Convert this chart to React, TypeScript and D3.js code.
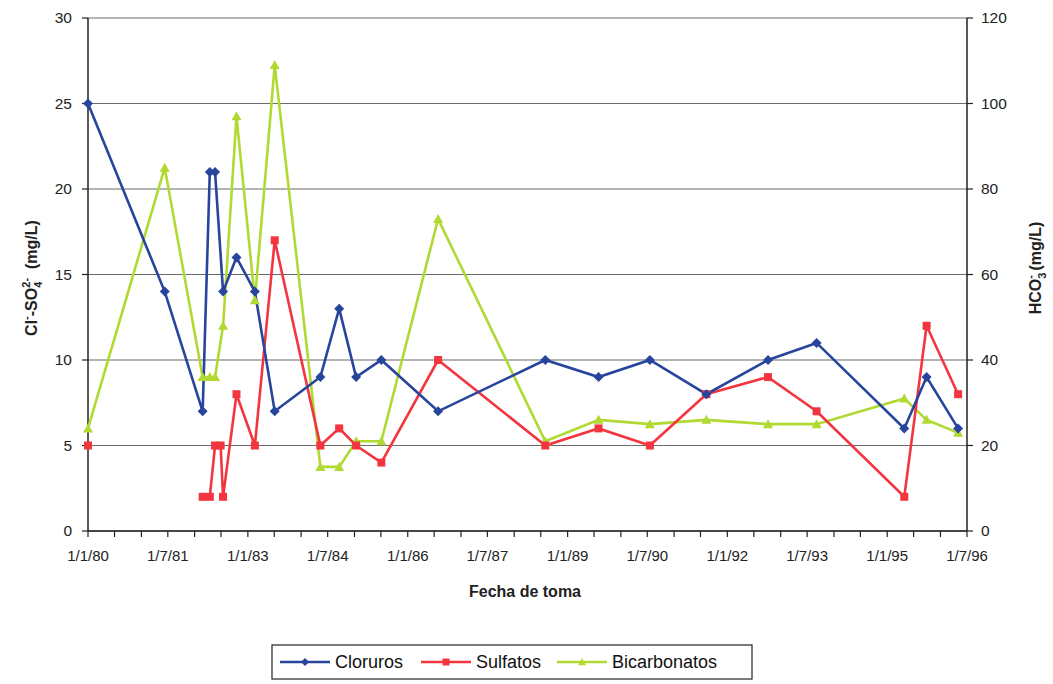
import React from 'react';
import * as d3 from 'd3';

// x axis labels (d/m/yy), one every 18 months
const xTickLabels = ['1/1/80', '1/7/81', '1/1/83', '1/7/84', '1/1/86', '1/7/87', '1/1/89', '1/7/90', '1/1/92', '1/7/93', '1/1/95', '1/7/96'];
const leftTicks = [0, 5, 10, 15, 20, 25, 30];
const rightTicks = [0, 20, 40, 60, 80, 100, 120];

// sampling dates
const cloDates = ['1980-01-01', '1981-06-10', '1982-02-25', '1982-04-15', '1982-05-21', '1982-07-15', '1982-10-15', '1983-02-18', '1983-07-04', '1984-05-12', '1984-09-18', '1985-01-12', '1985-07-04', '1986-07-28', '1988-08-01', '1989-08-01', '1990-07-19', '1991-08-10', '1992-10-06', '1993-09-04', '1995-04-28', '1995-09-28', '1996-05-01'];
const cloruros = [25, 14, 7, 21, 21, 14, 16, 14, 7, 9, 13, 9, 10, 7, 10, 9, 10, 8, 10, 11, 6, 9, 6];

// sulfatos: no value on 1981-06-10, so the first point stands alone
const sulDates = ['1980-01-01', '1981-06-10', '1982-02-25', '1982-04-15', '1982-05-21', '1982-06-28', '1982-07-15', '1982-10-15', '1983-02-18', '1983-07-04', '1984-05-12', '1984-09-18', '1985-01-12', '1985-07-04', '1986-07-28', '1988-08-01', '1989-08-01', '1990-07-19', '1991-08-10', '1992-10-06', '1993-09-04', '1995-04-28', '1995-09-28', '1996-05-01'];
const sulfatos: (number | null)[] = [5, null, 2, 2, 5, 5, 2, 8, 5, 17, 5, 6, 5, 4, 10, 5, 6, 5, 8, 9, 7, 2, 12, 8];

const bicDates = cloDates;
const bicarbonatos = [24, 85, 36, 36, 36, 48, 97, 54, 109, 15, 15, 21, 21, 73, 21, 26, 25, 26, 25, 25, 31, 26, 23];

const BLUE = '#27459c';
const RED = '#f2353f';
const GREEN = '#b0d932';
const FONT = '"Liberation Sans", Arial, sans-serif';

const parseISO = d3.timeParse('%Y-%m-%d');
const parseLabel = d3.timeParse('%d/%m/%y');

const W = 1053;
const H = 684;
const left = 88;
const right = 967;
const top = 18;
const bottom = 531;

type Pt = { d: Date; v: number | null };

export default function App() {
  const x = d3
    .scaleTime()
    .domain([parseLabel(xTickLabels[0]) as Date, parseLabel(xTickLabels[xTickLabels.length - 1]) as Date])
    .range([left, right]);
  const yL = d3.scaleLinear().domain([0, 30]).range([bottom, top]);
  const yR = d3.scaleLinear().domain([0, 120]).range([bottom, top]);

  const minorTicks = d3.timeMonth.every(6)!.range(x.domain()[0], d3.timeDay.offset(x.domain()[1], 1));

  const mk = (dates: string[], vals: (number | null)[]): Pt[] =>
    dates.map((d, i) => ({ d: parseISO(d) as Date, v: vals[i] }));
  const clo = mk(cloDates, cloruros);
  const sul = mk(sulDates, sulfatos);
  const bic = mk(bicDates, bicarbonatos);

  const lineL = d3
    .line<Pt>()
    .defined((p) => p.v !== null)
    .x((p) => x(p.d))
    .y((p) => yL(p.v as number));
  const lineR = d3
    .line<Pt>()
    .defined((p) => p.v !== null)
    .x((p) => x(p.d))
    .y((p) => yR(p.v as number));

  const diamond = (cx: number, cy: number, s = 5, color = BLUE) => (
    <path d={`M${cx},${cy - s}L${cx + s},${cy}L${cx},${cy + s}L${cx - s},${cy}Z`} fill={color} />
  );
  const square = (cx: number, cy: number, s = 4, color = RED) => (
    <rect x={cx - s} y={cy - s} width={2 * s} height={2 * s} fill={color} />
  );
  const triangle = (cx: number, cy: number, s = 5, color = GREEN) => (
    <path d={`M${cx},${cy - s}L${cx + s},${cy + s * 0.8}L${cx - s},${cy + s * 0.8}Z`} fill={color} />
  );

  const legendY = 662;

  return (
    <div style={{ position: 'absolute', left: 0, top: 0 }}>
      <svg width={W} height={H} style={{ display: 'block', background: '#fff' }} fontFamily={FONT}>
        {/* grid */}
        {leftTicks.map((t) => (
          <line key={'g' + t} x1={left} x2={right} y1={yL(t)} y2={yL(t)} stroke="#6a6a6a" strokeWidth={1.2} />
        ))}

        {/* axes */}
        <line x1={left} x2={left} y1={top} y2={bottom} stroke="#222" strokeWidth={1.5} />
        <line x1={right} x2={right} y1={top} y2={bottom} stroke="#222" strokeWidth={1.5} />
        <line x1={left} x2={right} y1={bottom} y2={bottom} stroke="#222" strokeWidth={1.5} />

        {leftTicks.map((t) => (
          <g key={'l' + t}>
            <line x1={left - 6} x2={left} y1={yL(t)} y2={yL(t)} stroke="#222" strokeWidth={1.2} />
            <text x={left - 16} y={yL(t)} dy="0.35em" textAnchor="end" fontSize={15.5} fill="#222">
              {t}
            </text>
          </g>
        ))}
        {rightTicks.map((t) => (
          <g key={'r' + t}>
            <line x1={right} x2={right + 6} y1={yR(t)} y2={yR(t)} stroke="#222" strokeWidth={1.2} />
            <text x={right + 14} y={yR(t)} dy="0.35em" textAnchor="start" fontSize={15.5} fill="#222">
              {t}
            </text>
          </g>
        ))}
        {minorTicks.map((d, i) => (
          <line key={'m' + i} x1={x(d)} x2={x(d)} y1={bottom} y2={bottom + 6} stroke="#222" strokeWidth={1.2} />
        ))}
        {xTickLabels.map((l) => (
          <text key={l} x={x(parseLabel(l) as Date)} y={bottom + 30} textAnchor="middle" fontSize={15} fill="#222">
            {l}
          </text>
        ))}

        {/* axis titles */}
        <text x={525} y={597} textAnchor="middle" fontSize={16} fontWeight="bold" fill="#222">
          Fecha de toma
        </text>
        <text transform="translate(37,278) rotate(-90)" textAnchor="middle" fontSize={16} fontWeight="bold" fill="#222">
          Cl
          <tspan fontSize={11} dy={-7}>-</tspan>
          <tspan dy={7}>-SO</tspan>
          <tspan fontSize={11} dy={5}>4</tspan>
          <tspan fontSize={11} dx={-6} dy={-12}>2-</tspan>
          <tspan dy={7}>{'\u00a0\u00a0(mg/L)'}</tspan>
        </text>
        <text transform="translate(1041,268) rotate(-90)" textAnchor="middle" fontSize={16} fontWeight="bold" fill="#222">
          HCO
          <tspan fontSize={11} dy={5}>3</tspan>
          <tspan fontSize={11} dx={-6} dy={-12}>-</tspan>
          <tspan dy={7}>{'\u00a0(mg/L)'}</tspan>
        </text>

        {/* series */}
        <path d={lineR(bic) || ''} fill="none" stroke={GREEN} strokeWidth={2.6} />
        <path d={lineL(sul) || ''} fill="none" stroke={RED} strokeWidth={2.6} />
        <path d={lineL(clo) || ''} fill="none" stroke={BLUE} strokeWidth={2.6} />
        {bic.map((p, i) => <g key={'b' + i}>{triangle(x(p.d), yR(p.v as number))}</g>)}
        {sul
          .filter((p) => p.v !== null)
          .map((p, i) => <g key={'s' + i}>{square(x(p.d), yL(p.v as number))}</g>)}
        {clo.map((p, i) => <g key={'c' + i}>{diamond(x(p.d), yL(p.v as number))}</g>)}

        {/* legend */}
        <rect x={272} y={645} width={480} height={34} fill="#fff" stroke="#222" strokeWidth={1.2} />
        <line x1={280} x2={330} y1={legendY} y2={legendY} stroke={BLUE} strokeWidth={2.6} />
        {diamond(305, legendY, 4)}
        <text x={335} y={legendY} dy="0.35em" fontSize={18} fill="#111">Cloruros</text>
        <line x1={421} x2={471} y1={legendY} y2={legendY} stroke={RED} strokeWidth={2.6} />
        {square(446, legendY, 3.5)}
        <text x={476} y={legendY} dy="0.35em" fontSize={18} fill="#111">Sulfatos</text>
        <line x1={557} x2={607} y1={legendY} y2={legendY} stroke={GREEN} strokeWidth={2.6} />
        {triangle(582, legendY, 4)}
        <text x={612} y={legendY} dy="0.35em" fontSize={18} fill="#111">Bicarbonatos</text>
      </svg>
    </div>
  );
}
